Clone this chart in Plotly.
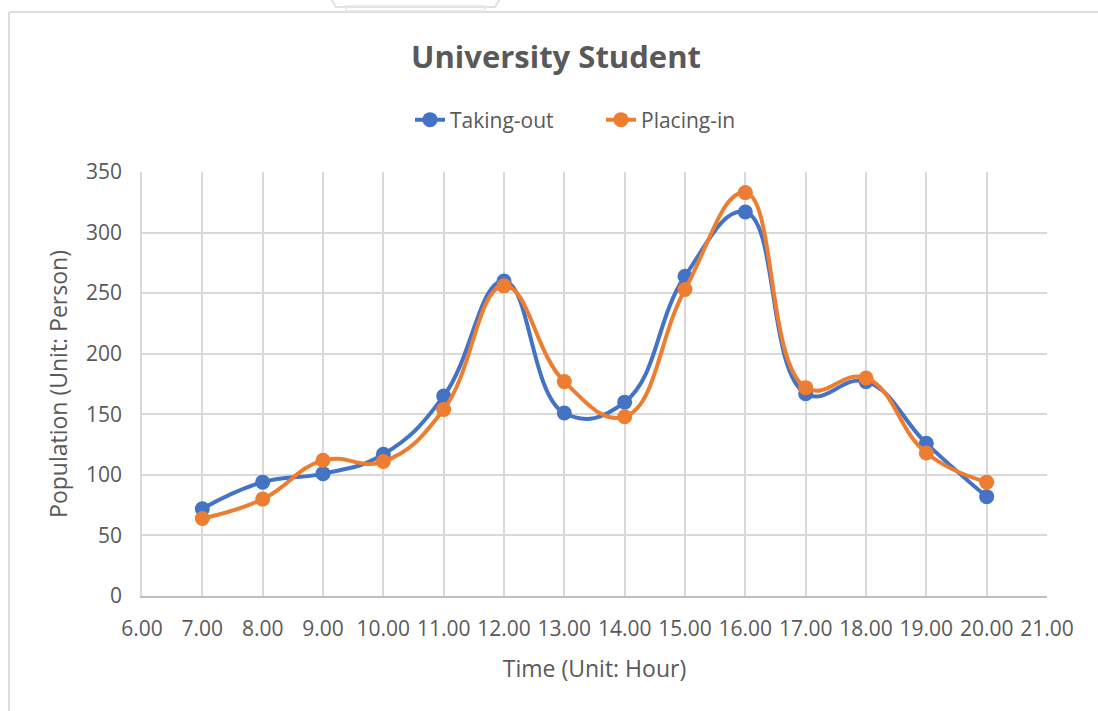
import plotly.graph_objects as go

# Hourly counts of university students at the lockers
hours = [7, 8, 9, 10, 11, 12, 13, 14, 15, 16, 17, 18, 19, 20]
taking_out = [72, 94, 101, 117, 165, 260, 151, 160, 264, 317, 167, 177, 126, 82]
placing_in = [64, 80, 112, 111, 154, 256, 177, 148, 253, 333, 172, 180, 118, 94]

x_ticks = list(range(6, 22))
x_tick_text = [f"{h:.2f}" for h in x_ticks]
y_ticks = list(range(0, 351, 50))

BLUE = "#4472C4"
ORANGE = "#ED7D31"
TEXT = "#595959"
GRID = "#D9D9D9"
FONT = "Open Sans"

fig = go.Figure()
for name, vals, color in [("Taking-out", taking_out, BLUE), ("Placing-in", placing_in, ORANGE)]:
    fig.add_trace(go.Scatter(
        x=hours, y=vals, name=name, mode="lines+markers",
        line=dict(color=color, width=4, shape="spline", smoothing=1.25),
        marker=dict(color=color, size=15),
    ))

fig.update_layout(
    width=1098, height=711,
    margin=dict(l=142, r=51, t=172, b=115),
    paper_bgcolor="white", plot_bgcolor="white",
    font=dict(family=FONT, color=TEXT),
    title=dict(text="<b>University Student</b>", x=556 / 1098, xanchor="center",
               y=1 - 57 / 711, yanchor="middle",
               font=dict(family=FONT, size=31, color=TEXT)),
    legend=dict(orientation="h", x=(601 - 142) / 905, xanchor="center",
                y=1 + (172 - 120) / (711 - 172 - 115), yanchor="middle",
                font=dict(size=21, color=TEXT),
                entrywidth=146, entrywidthmode="pixels", tracegroupgap=0),
    showlegend=True,
)

fig.update_xaxes(
    range=[6, 21], tickmode="array", tickvals=x_ticks, ticktext=x_tick_text,
    showgrid=True, gridcolor=GRID, gridwidth=1.6,
    showline=True, linecolor="#BFBFBF", linewidth=1.6,
    zeroline=False, ticks="outside", ticklen=13, tickcolor="rgba(0,0,0,0)",
    tickfont=dict(size=21, color=TEXT),
    title=dict(text="Time (Unit: Hour)", font=dict(size=23, color=TEXT), standoff=20),
)
fig.update_yaxes(
    range=[0, 350], tickmode="array", tickvals=y_ticks,
    showgrid=True, gridcolor=GRID, gridwidth=1.6,
    showline=True, linecolor=GRID, linewidth=1.6,
    zeroline=False, ticks="outside", ticklen=14, tickcolor="rgba(0,0,0,0)",
    tickfont=dict(size=21, color=TEXT),
    title=dict(text="Population (Unit: Person)", font=dict(size=23, color=TEXT), standoff=12),
)

# Chart frame and the tab peeking above it
fig.add_shape(type="line", xref="paper", yref="paper", x0=-133 / 905, x1=2, y0=1 + 160 / 424, y1=1 + 160 / 424,
              line=dict(color="#DCDCDC", width=2))
fig.add_shape(type="line", xref="paper", yref="paper", x0=-133 / 905, x1=-133 / 905, y0=-1, y1=1 + 160 / 424,
              line=dict(color="#DCDCDC", width=2))
fig.add_shape(type="path", xref="paper", yref="paper",
              path=(f"M {(330-142)/905},{1+175/424} L {(336-142)/905},{1+165/424} "
                    f"L {(495-142)/905},{1+165/424} L {(501-142)/905},{1+175/424}"),
              line=dict(color="#E2E2E2", width=2))
fig.add_shape(type="rect", xref="paper", yref="paper",
              x0=(346 - 142) / 905, x1=(485 - 142) / 905, y0=1 + 161 / 424, y1=1 + 166 / 424,
              line=dict(color="#E6E6E6", width=1.5))

fig.write_html("out.html")
